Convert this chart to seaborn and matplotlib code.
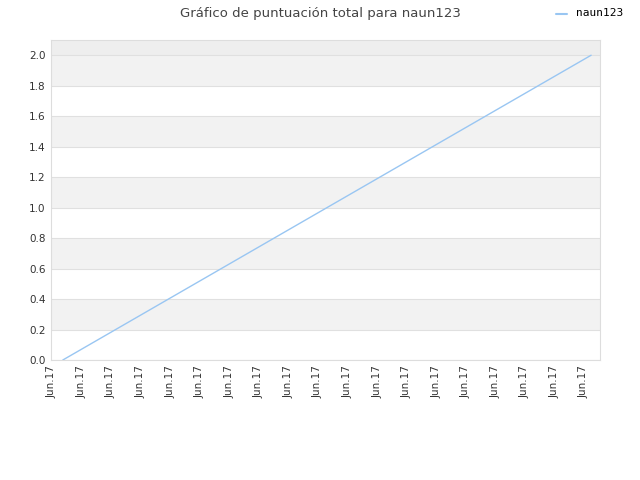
import numpy as np
import pandas as pd
import matplotlib
matplotlib.use('Agg')
import matplotlib.pyplot as plt
import seaborn as sns

# data
tick_labels = ['Jun.17'] * 19
x_pos = [0.37, 18.24]
score = [0.0, 2.0]
player = 'naun123'

df = pd.DataFrame({'x': x_pos, 'score': score, 'player': [player] * len(x_pos)})

sns.set_style('white')
plt.rcParams['font.family'] = ['DejaVu Sans']

fig = plt.figure(figsize=(6.4, 4.8), dpi=100)
ax = fig.add_axes([0.0797, 0.25, 0.8578, 0.6667])

# alternating bands
yt = np.arange(0, 2.01, 0.2)
for i in range(len(yt) - 1):
    if i % 2 == 1:
        ax.axhspan(yt[i], yt[i + 1], color='#f2f2f2', zorder=0, lw=0)
ax.axhspan(2.0, 2.1, color='#eeeeee', zorder=0, lw=0)
for v in yt:
    ax.axhline(v, color='#e0e0e0', lw=0.8, zorder=0.5)

sns.lineplot(data=df, x='x', y='score', color='#99c6f2', lw=1, ax=ax, legend=False)

ax.set_xlim(-0.03, 18.54)
ax.set_ylim(0, 2.1)
ax.set_xticks(range(len(tick_labels)))
ax.set_xticklabels(tick_labels, rotation=90, fontsize=7.5, color='#333333')
ax.set_yticks(yt)
ax.set_yticklabels(['%.1f' % v for v in yt], fontsize=7.5, color='#333333')
ax.tick_params(length=0, pad=4)
ax.set_xlabel('')
ax.set_ylabel('')
for s in ax.spines.values():
    s.set_color('#dddddd')
    s.set_linewidth(0.8)

fig.text(0.5, 0.972, 'Gráfico de puntuación total para naun123', ha='center', va='center',
         fontsize=9.5, color='#444444')
fig.lines.append(plt.Line2D([556 / 640, 567 / 640], [1 - 14 / 480, 1 - 14 / 480],
                            color='#99c6f2', lw=1.5, transform=fig.transFigure))
fig.text(576 / 640, 1 - 13 / 480, player, ha='left', va='center', fontsize=8,
         family='DejaVu Sans Mono', color='black')

plt.savefig('out.png', dpi=100)
